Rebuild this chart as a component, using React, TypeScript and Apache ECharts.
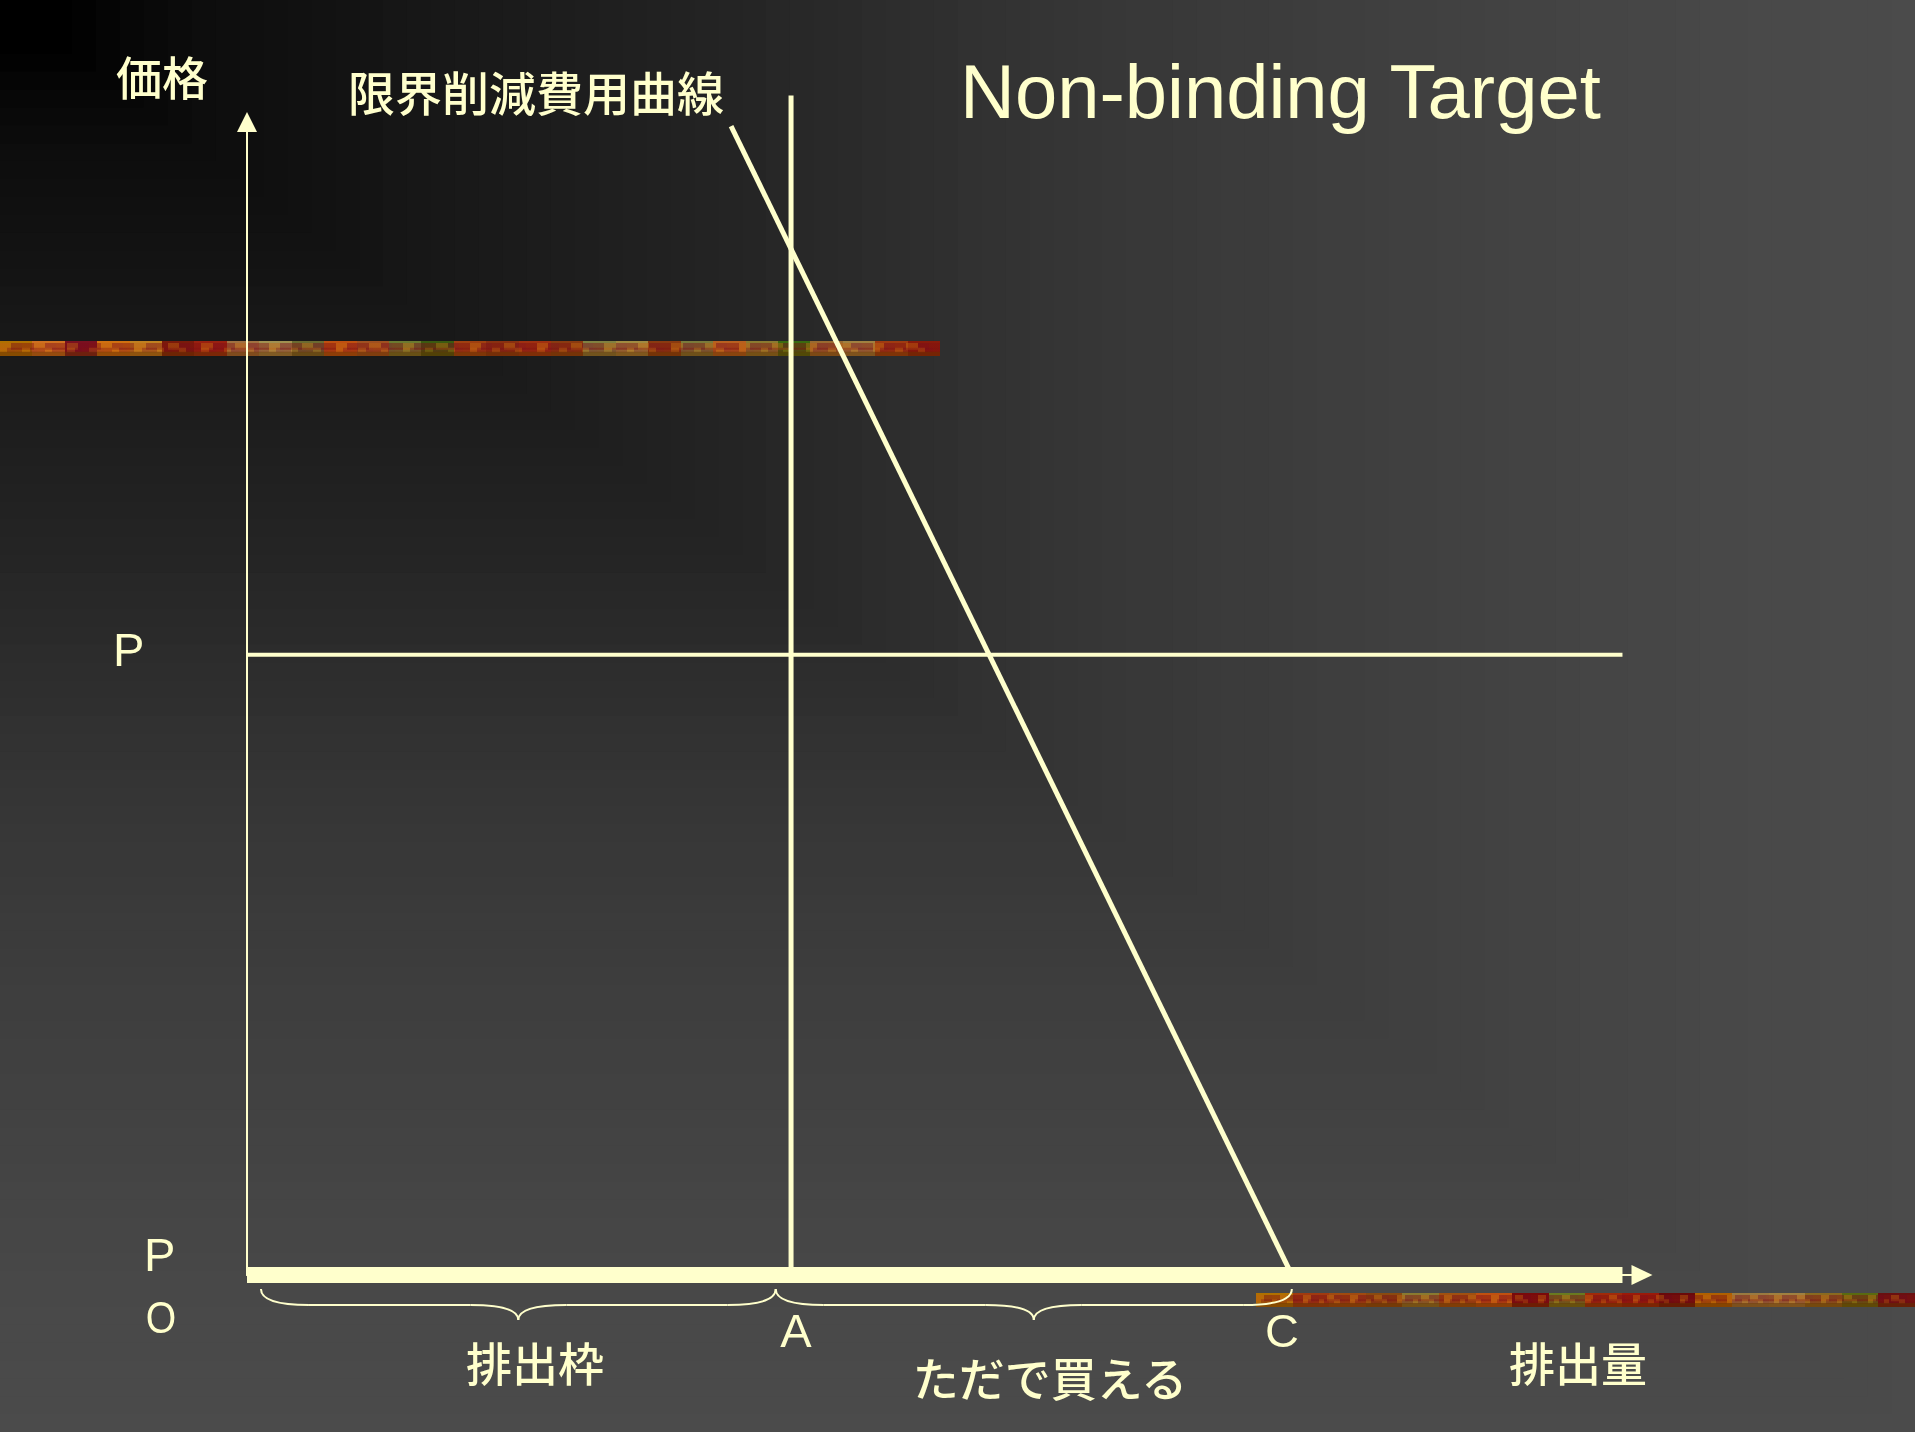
import React, { useEffect, useRef } from 'react';
import * as echarts from 'echarts';

const W = 1915;
const H = 1432;
const INK = '#FFFFCC';
const CJK = '"Noto Sans CJK JP", "Noto Sans CJK SC", sans-serif';
const LATIN = '"Liberation Sans", Arial, sans-serif';

// ---- data (arbitrary schematic units) ----
const xRange = [0, 100];
const yRange = [0, 100];
const quotaA = 39.0;          // A : emission quota
const freeC = 74.9;           // C : where the MAC curve reaches zero
const priceP = 53.8;          // P : market price
const axisEnd = 98.6;         // end of the thick quantity axis / price line
const quotaLineTop = 102.3;   // top of the vertical line at A
const macCurve = [[34.7, 99.65], [freeC, 0]];
const braceSpans = [[1.0, 37.9], [37.9, 74.9]];

// ---- background (rectangular "from corner" gradient) ----
const bgT = [0, 0.03, 0.1, 0.2, 0.3, 0.4, 0.5, 0.6, 0.7, 0.8, 0.9, 1];
const bgGray = [0, 0, 12, 21, 29, 38, 48, 56, 62, 67, 72, 75];

// ---- decorative textured stripes ----
const stripe1Colors = ['#B07000', '#9A6A30', '#7A7A3A', '#8A3A10', '#3A5A10', '#6A6A30', '#7A1A0A', '#D07020', '#A08040', '#B86020', '#808040', '#A04010', '#C05010', '#9A2010', '#7A1020', '#A03A10', '#8A7A30', '#A08A40', '#8A3010', '#A05020', '#A07040', '#D07010', '#8A1A0A', '#3A6A10', '#8A3A10', '#A03010', '#6A7A30', '#A09050', '#C08020'];
const stripe2Colors = ['#B07000', '#9A7A40', '#6A7A20', '#8A4A10', '#5A6A10', '#6A0A0A', '#C05010', '#A03A10', '#A08040', '#A02A0A', '#8A7A30', '#6A1010', '#B06000', '#7A0A0A', '#A04A10', '#8A6A20', '#9A1A0A', '#A05010'];
const grainColors = ['#C06010', '#6A1A0A', '#A08040', '#8A2A10', '#D08020', '#5A5A20', '#B04010', '#7A0A1A', '#A07030', '#902010', '#C07020', '#6A4A10', '#A03010', '#B08040', '#801010', '#C05020', '#707030', '#9A3A10', '#D09030', '#701A10', '#A05A20'];

function grayAt(t: number) {
  for (let i = 1; i < bgT.length; i++) {
    if (t <= bgT[i]) {
      const f = (t - bgT[i - 1]) / (bgT[i] - bgT[i - 1]);
      return bgGray[i - 1] + f * (bgGray[i] - bgGray[i - 1]);
    }
  }
  return bgGray[bgGray.length - 1];
}

function blockStops(colors: string[], repeat: number) {
  const n = colors.length * repeat;
  const stops: any[] = [];
  for (let i = 0; i < n; i++) {
    const c = colors[(i * 7) % colors.length];
    stops.push({ offset: i / n, color: c });
    stops.push({ offset: (i + 1) / n, color: c });
  }
  return stops;
}

function stripe(x: number, y: number, w: number, h: number, colors: string[]) {
  return [
    {
      type: 'rect', z: -50, silent: true,
      shape: { x, y, width: w, height: h },
      style: { fill: { type: 'linear', x: 0, y: 0, x2: 1, y2: 0, colorStops: blockStops(colors, 1) } },
    },
    {
      type: 'rect', z: -49, silent: true,
      shape: { x, y: y + 2, width: w, height: h * 0.45 },
      style: { opacity: 0.45, fill: { type: 'linear', x: 0, y: 0, x2: 1, y2: 0, colorStops: blockStops(grainColors, 4) } },
    },
    {
      type: 'rect', z: -48, silent: true,
      shape: { x, y: y + h * 0.45, width: w, height: h * 0.3 },
      style: { opacity: 0.35, fill: { type: 'linear', x: 0, y: 0, x2: 1, y2: 0, colorStops: blockStops(grainColors, 6) } },
    },
    {
      type: 'rect', z: -47, silent: true,
      shape: { x, y: y + h * 0.72, width: w, height: h * 0.28 },
      style: { fill: 'rgba(100,45,0,0.55)' },
    },
  ];
}

function brace(L: number, R: number, yT: number, yM: number, yB: number) {
  const M = (L + R) / 2;
  const c = 48;
  const st = { stroke: INK, lineWidth: 2, fill: null };
  return [
    { type: 'bezierCurve', z: 20, shape: { x1: L, y1: yT, cpx1: L, cpy1: yM, x2: L + c, y2: yM }, style: st },
    { type: 'line', z: 20, shape: { x1: L + c, y1: yM, x2: M - c, y2: yM }, style: st },
    { type: 'bezierCurve', z: 20, shape: { x1: M - c, y1: yM, cpx1: M, cpy1: yM, x2: M, y2: yB }, style: st },
    { type: 'bezierCurve', z: 20, shape: { x1: M, y1: yB, cpx1: M, cpy1: yM, x2: M + c, y2: yM }, style: st },
    { type: 'line', z: 20, shape: { x1: M + c, y1: yM, x2: R - c, y2: yM }, style: st },
    { type: 'bezierCurve', z: 20, shape: { x1: R - c, y1: yM, cpx1: R, cpy1: yM, x2: R, y2: yT }, style: st },
  ];
}

function label(text: string, x: number, y: number, size: number, family: string, align = 'center', weight: any = 'normal', scaleX = 1) {
  return {
    type: 'text', z: 30, silent: true, x, y, scaleX,
    style: { text, fill: INK, fontSize: size, fontFamily: family, fontWeight: weight, align, verticalAlign: 'middle' },
  };
}

export default function App() {
  const ref = useRef<HTMLDivElement>(null);

  useEffect(() => {
    document.body.style.margin = '0';
    const chart = echarts.init(ref.current!, null, { renderer: 'svg' });

    const lineSeries = (name: string, data: number[][], width: number) => ({
      name, type: 'line', data, symbol: 'none', clip: false, silent: true,
      lineStyle: { color: INK, width, cap: 'butt' },
    });

    chart.setOption({
      animation: false,
      backgroundColor: 'transparent',
      grid: { left: 247, top: 122, right: W - 1642, bottom: H - 1275 },
      xAxis: {
        type: 'value', min: xRange[0], max: xRange[1],
        axisLine: { show: true, onZero: false, symbol: ['none', 'triangle'], symbolSize: [20, 21], lineStyle: { color: INK, width: 2 } },
        axisTick: { show: false }, axisLabel: { show: false }, splitLine: { show: false },
      },
      yAxis: {
        type: 'value', min: yRange[0], max: yRange[1],
        axisLine: { show: true, onZero: false, symbol: ['none', 'triangle'], symbolSize: [20, 20], lineStyle: { color: INK, width: 2 } },
        axisTick: { show: false }, axisLabel: { show: false }, splitLine: { show: false },
      },
      series: [
        lineSeries('P', [[0, priceP], [axisEnd, priceP]], 4),
        lineSeries('A', [[quotaA, 0], [quotaA, quotaLineTop]], 5),
        lineSeries('限界削減費用曲線', macCurve, 5),
        lineSeries('排出量', [[0, 0], [axisEnd, 0]], 16),
      ],
    });

    // background nested rectangles
    const bg: any[] = [];
    const N = 80;
    for (let i = N; i >= 1; i--) {
      const t = i / N;
      const g = Math.round(grayAt(t - 0.5 / N));
      bg.push({
        type: 'rect', z: -100, silent: true,
        shape: { x: 0, y: 0, width: W * t, height: H * t },
        style: { fill: `rgb(${g},${g},${g})` },
      });
    }

    const px = (x: number) => (chart.convertToPixel({ gridIndex: 0 }, [x, 0]) as number[])[0];
    const braces = braceSpans.flatMap(([a, b]) => brace(px(a), px(b), 1289, 1305, 1320));

    chart.setOption({
      graphic: [
        ...bg,
        ...stripe(0, 341, 940, 15, stripe1Colors),
        ...stripe(1256, 1293, W - 1256, 14, stripe2Colors),
        ...braces,
        label('価格', 162, 75, 46, CJK, 'center', 500),
        label('限界削減費用曲線', 536, 90, 47, CJK, 'center', 500),
        label('Non-binding Target', 960, 91, 76, LATIN, 'left'),
        label('P', 113, 649, 47, LATIN, 'left'),
        label('P', 144, 1254, 47, LATIN, 'left'),
        label('O', 161, 1318, 45, LATIN, 'center', 'normal', 0.87),
        label('A', 796, 1330, 47, LATIN),
        label('C', 1282, 1330, 47, LATIN),
        label('排出枠', 535, 1361, 46, CJK, 'center', 500),
        label('ただで買える', 1050, 1376, 46, CJK, 'center', 500),
        label('排出量', 1578, 1361, 46, CJK, 'center', 500),
      ],
    });

    return () => chart.dispose();
  }, []);

  return <div ref={ref} style={{ position: 'fixed', left: 0, top: 0, width: W, height: H }} />;
}
